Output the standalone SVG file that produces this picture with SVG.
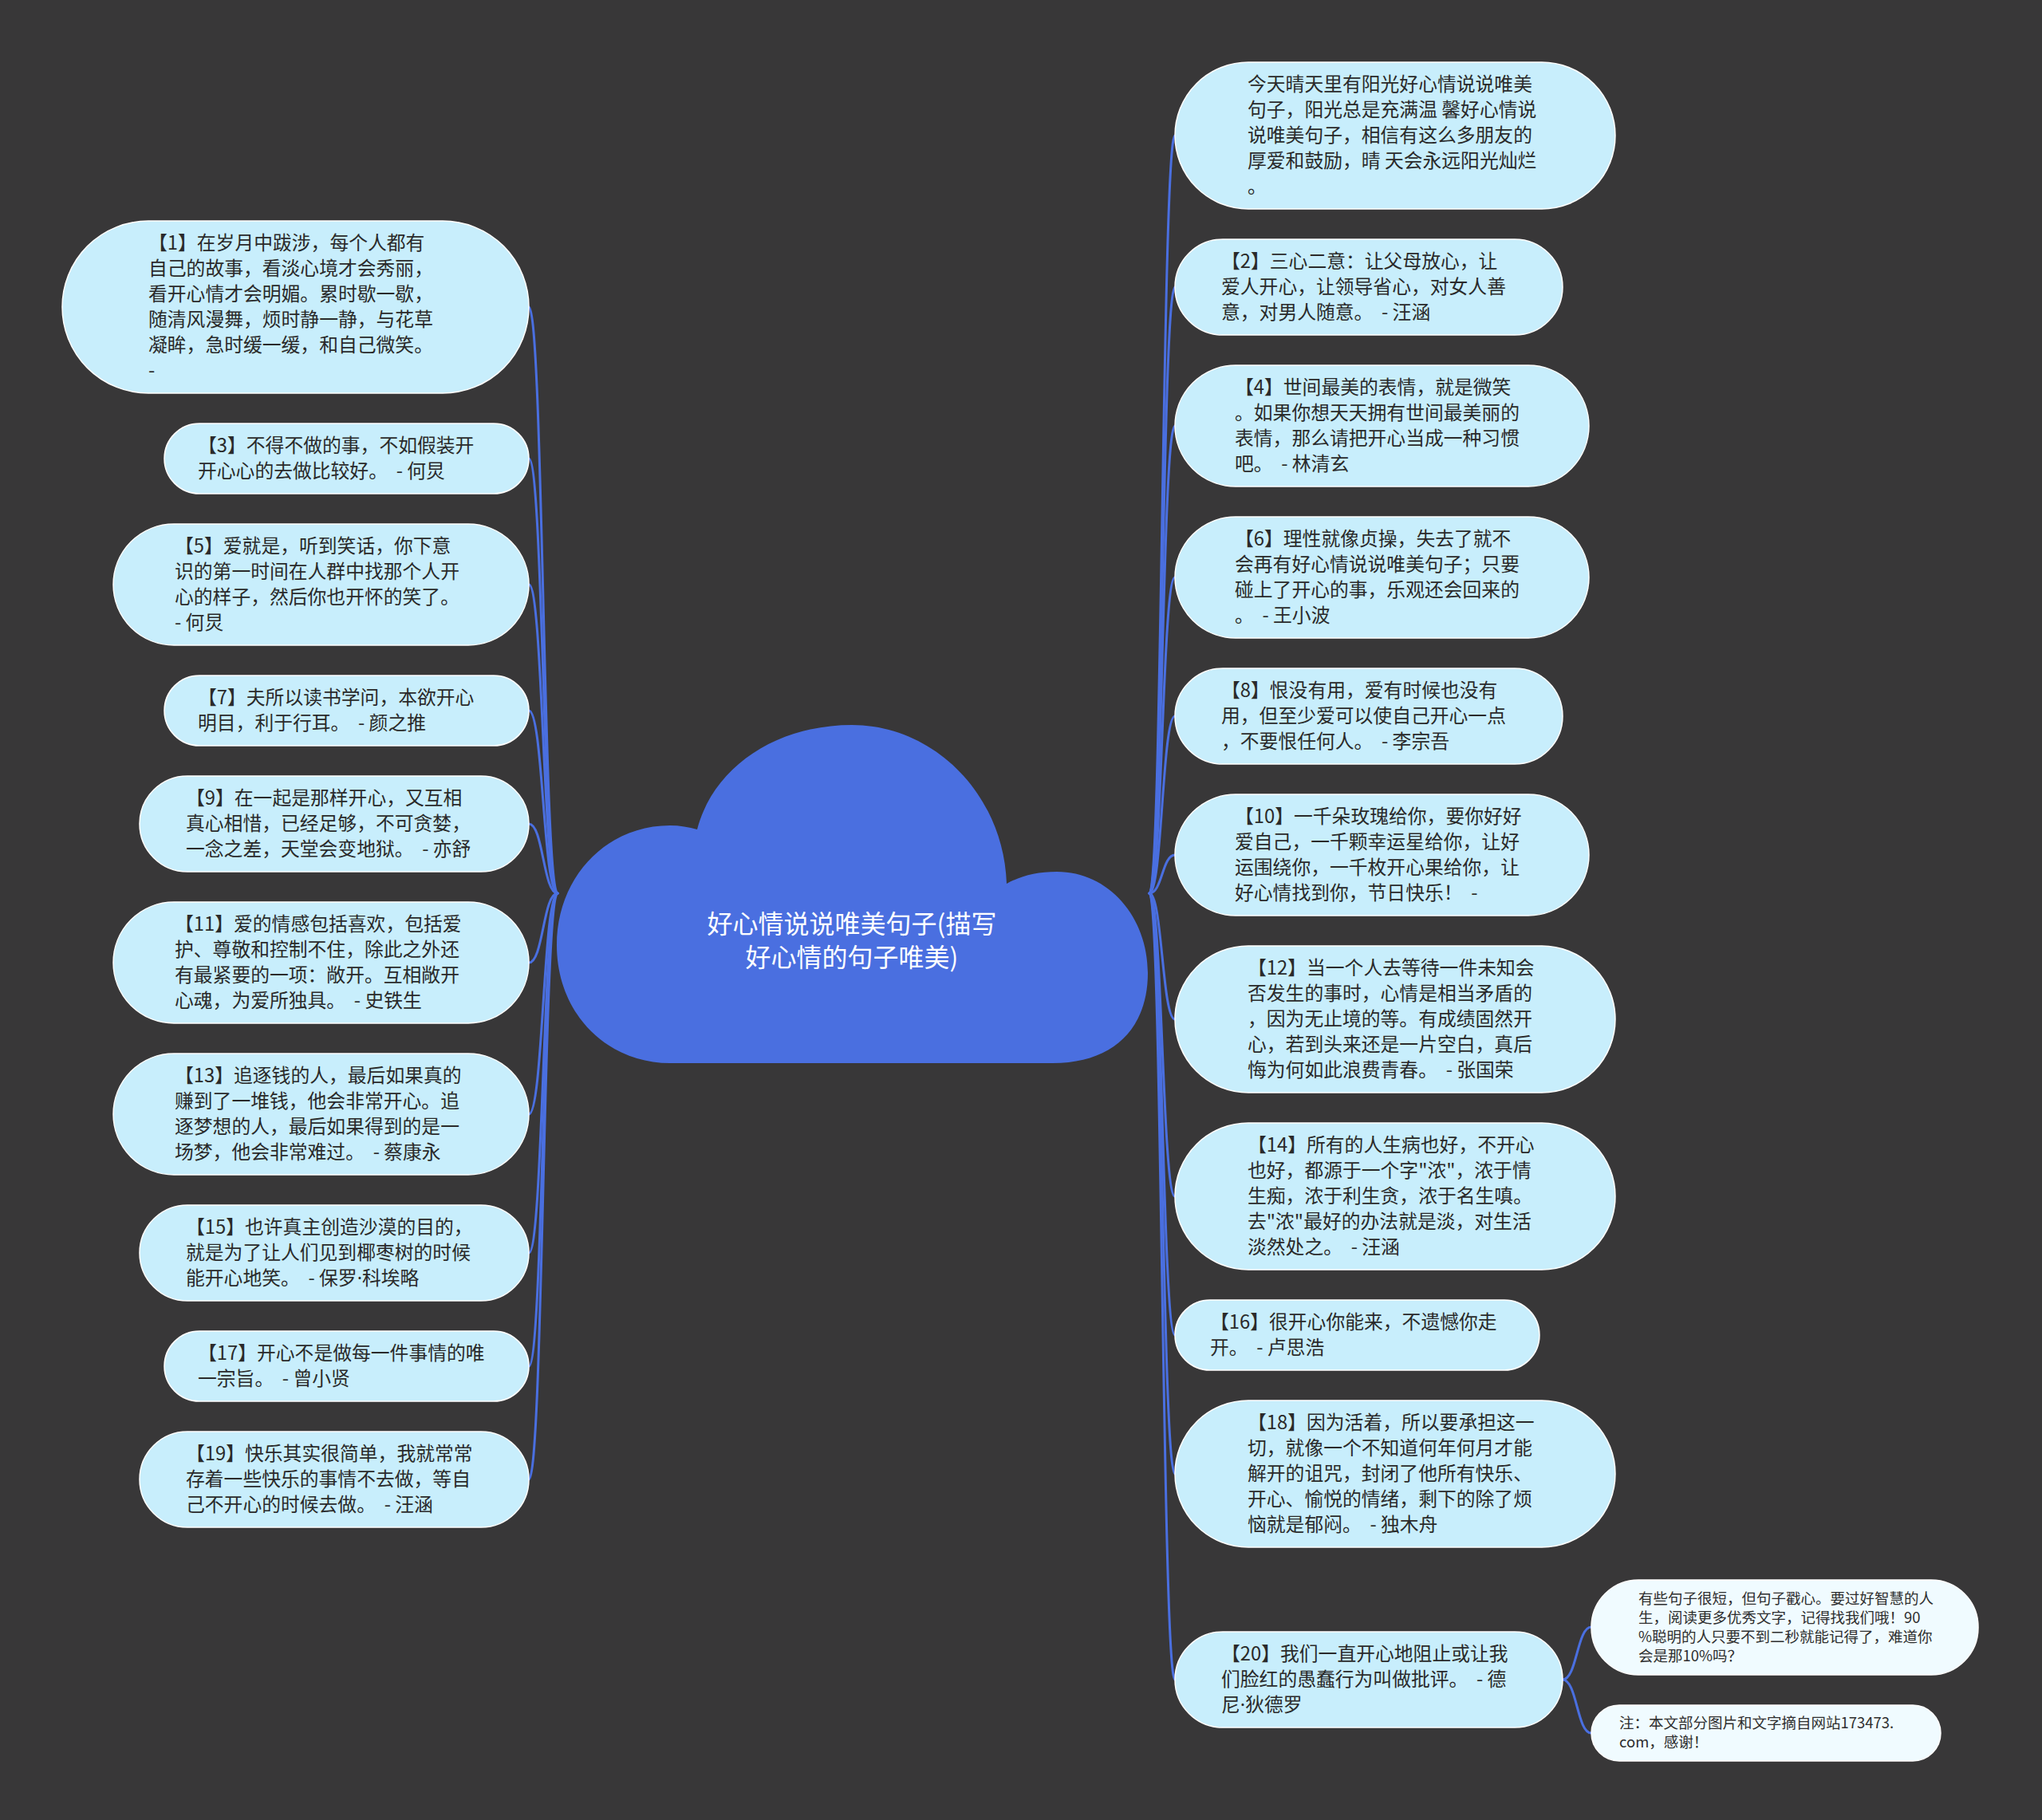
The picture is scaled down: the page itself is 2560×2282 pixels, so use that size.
<svg xmlns="http://www.w3.org/2000/svg" width="2560" height="2282" viewBox="0 0 2560 2282">
<style>
.bg{fill:#383738}
.link{fill:none;stroke:#4a6fe0;stroke-width:3;stroke-linecap:round}
.pill{fill:#c8eefc;stroke:#ffffff;stroke-width:1.5}
.note{fill:#f0fbff;stroke:#ffffff;stroke-width:1.5}
.t{font-family:"Noto Sans CJK SC","Noto Sans",sans-serif;font-size:23.8px;fill:#2a2a2a}
.tn{font-family:"Noto Sans CJK SC","Noto Sans",sans-serif;font-size:18.5px;fill:#2e2e2e}
.tc{font-family:"Noto Sans CJK SC","Noto Sans",sans-serif;font-size:32px;fill:#ffffff;text-anchor:middle}
.dot{font-family:"Noto Sans","DejaVu Sans",sans-serif}
</style>
<rect class="bg" x="0" y="0" width="2560" height="2282"/>
<g id="connectors">
<path class="link" d="M699,1120 C681,1120 681,385 663,385"/>
<path class="link" d="M699,1120 C681,1120 681,575 663,575"/>
<path class="link" d="M699,1120 C681,1120 681,733 663,733"/>
<path class="link" d="M699,1120 C681,1120 681,891 663,891"/>
<path class="link" d="M699,1120 C681,1120 681,1033 663,1033"/>
<path class="link" d="M699,1120 C681,1120 681,1207 663,1207"/>
<path class="link" d="M699,1120 C681,1120 681,1397 663,1397"/>
<path class="link" d="M699,1120 C681,1120 681,1571 663,1571"/>
<path class="link" d="M699,1120 C681,1120 681,1713 663,1713"/>
<path class="link" d="M699,1120 C681,1120 681,1855 663,1855"/>
<path class="link" d="M1441,1120 C1457,1120 1457,170 1473,170"/>
<path class="link" d="M1441,1120 C1457,1120 1457,360 1473,360"/>
<path class="link" d="M1441,1120 C1457,1120 1457,534 1473,534"/>
<path class="link" d="M1441,1120 C1457,1120 1457,724 1473,724"/>
<path class="link" d="M1441,1120 C1457,1120 1457,898 1473,898"/>
<path class="link" d="M1441,1120 C1457,1120 1457,1072 1473,1072"/>
<path class="link" d="M1441,1120 C1457,1120 1457,1278 1473,1278"/>
<path class="link" d="M1441,1120 C1457,1120 1457,1500 1473,1500"/>
<path class="link" d="M1441,1120 C1457,1120 1457,1674 1473,1674"/>
<path class="link" d="M1441,1120 C1457,1120 1457,1848 1473,1848"/>
<path class="link" d="M1441,1120 C1457,1120 1457,2106 1473,2106"/>
<path class="link" d="M1959,2106 C1977,2106 1977,2040 1995,2040"/>
<path class="link" d="M1959,2106 C1977,2106 1977,2173 1995,2173"/>
</g>
<g id="node-center">
<path fill="#4a6fe0" d="M840,1333 C760,1333 698,1270 698,1185 C698,1100 760,1035 840,1035 C852,1035 864,1037 874,1040 C895,960 975,909 1068,909 C1170,909 1258,995 1262,1108 C1280,1098 1300,1093 1325,1093 C1390,1093 1439,1150 1439,1220 C1439,1290 1395,1333 1320,1333 Z"/>
<text class="tc"><tspan x="1068" y="1170">好心情说说唯美句子(描写</tspan><tspan x="1068" y="1212">好心情的句子唯美)</tspan></text>
</g>
<g id="node-1">
<rect class="pill" x="78" y="277" width="585" height="216" rx="108" ry="108"/>
<text class="t"><tspan x="186" y="313">【1】在岁月中跋涉，每个人都有</tspan><tspan x="186" y="345">自己的故事，看淡心境才会秀丽，</tspan><tspan x="186" y="377">看开心情才会明媚。累时歇一歇，</tspan><tspan x="186" y="409">随清风漫舞，烦时静一静，与花草</tspan><tspan x="186" y="441">凝眸，急时缓一缓，和自己微笑。</tspan><tspan x="186" y="473">-</tspan></text>
</g>
<g id="node-3">
<rect class="pill" x="206" y="531" width="457" height="88" rx="44" ry="44"/>
<text class="t"><tspan x="248" y="567">【3】不得不做的事，不如假装开</tspan><tspan x="248" y="599">开心心的去做比较好。&#160; - 何炅</tspan></text>
</g>
<g id="node-5">
<rect class="pill" x="142" y="657" width="521" height="152" rx="76" ry="76"/>
<text class="t"><tspan x="219" y="693">【5】爱就是，听到笑话，你下意</tspan><tspan x="219" y="725">识的第一时间在人群中找那个人开</tspan><tspan x="219" y="757">心的样子，然后你也开怀的笑了。</tspan><tspan x="219" y="789">- 何炅</tspan></text>
</g>
<g id="node-7">
<rect class="pill" x="206" y="847" width="457" height="88" rx="44" ry="44"/>
<text class="t"><tspan x="248" y="883">【7】夫所以读书学问，本欲开心</tspan><tspan x="248" y="915">明目，利于行耳。&#160; - 颜之推</tspan></text>
</g>
<g id="node-9">
<rect class="pill" x="175" y="973" width="488" height="120" rx="60" ry="60"/>
<text class="t"><tspan x="233" y="1009">【9】在一起是那样开心，又互相</tspan><tspan x="233" y="1041">真心相惜，已经足够，不可贪婪，</tspan><tspan x="233" y="1073">一念之差，天堂会变地狱。&#160; - 亦舒</tspan></text>
</g>
<g id="node-11">
<rect class="pill" x="142" y="1131" width="521" height="152" rx="76" ry="76"/>
<text class="t"><tspan x="219" y="1167">【11】爱的情感包括喜欢，包括爱</tspan><tspan x="219" y="1199">护、尊敬和控制不住，除此之外还</tspan><tspan x="219" y="1231">有最紧要的一项：敞开。互相敞开</tspan><tspan x="219" y="1263">心魂，为爱所独具。&#160; - 史铁生</tspan></text>
</g>
<g id="node-13">
<rect class="pill" x="142" y="1321" width="521" height="152" rx="76" ry="76"/>
<text class="t"><tspan x="219" y="1357">【13】追逐钱的人，最后如果真的</tspan><tspan x="219" y="1389">赚到了一堆钱，他会非常开心。追</tspan><tspan x="219" y="1421">逐梦想的人，最后如果得到的是一</tspan><tspan x="219" y="1453">场梦，他会非常难过。&#160; - 蔡康永</tspan></text>
</g>
<g id="node-15">
<rect class="pill" x="175" y="1511" width="488" height="120" rx="60" ry="60"/>
<text class="t"><tspan x="233" y="1547">【15】也许真主创造沙漠的目的，</tspan><tspan x="233" y="1579">就是为了让人们见到椰枣树的时候</tspan><tspan x="233" y="1611">能开心地笑。&#160; - 保罗<tspan class="dot">·</tspan>科埃略</tspan></text>
</g>
<g id="node-17">
<rect class="pill" x="206" y="1669" width="457" height="88" rx="44" ry="44"/>
<text class="t"><tspan x="248" y="1705">【17】开心不是做每一件事情的唯</tspan><tspan x="248" y="1737">一宗旨。&#160; - 曾小贤</tspan></text>
</g>
<g id="node-19">
<rect class="pill" x="175" y="1795" width="488" height="120" rx="60" ry="60"/>
<text class="t"><tspan x="233" y="1831">【19】快乐其实很简单，我就常常</tspan><tspan x="233" y="1863">存着一些快乐的事情不去做，等自</tspan><tspan x="233" y="1895">己不开心的时候去做。&#160; - 汪涵</tspan></text>
</g>
<g id="node-top">
<rect class="pill" x="1473" y="78" width="552" height="184" rx="92" ry="92"/>
<text class="t"><tspan x="1564" y="114">今天晴天里有阳光好心情说说唯美</tspan><tspan x="1564" y="146">句子，阳光总是充满温 馨好心情说</tspan><tspan x="1564" y="178">说唯美句子，相信有这么多朋友的</tspan><tspan x="1564" y="210">厚爱和鼓励，晴 天会永远阳光灿烂</tspan><tspan x="1564" y="242">。</tspan></text>
</g>
<g id="node-2">
<rect class="pill" x="1473" y="300" width="486" height="120" rx="60" ry="60"/>
<text class="t"><tspan x="1531" y="336">【2】三心二意：让父母放心，让</tspan><tspan x="1531" y="368">爱人开心，让领导省心，对女人善</tspan><tspan x="1531" y="400">意，对男人随意。&#160; - 汪涵</tspan></text>
</g>
<g id="node-4">
<rect class="pill" x="1473" y="458" width="519" height="152" rx="76" ry="76"/>
<text class="t"><tspan x="1548" y="494">【4】世间最美的表情，就是微笑</tspan><tspan x="1548" y="526">。如果你想天天拥有世间最美丽的</tspan><tspan x="1548" y="558">表情，那么请把开心当成一种习惯</tspan><tspan x="1548" y="590">吧。&#160; - 林清玄</tspan></text>
</g>
<g id="node-6">
<rect class="pill" x="1473" y="648" width="519" height="152" rx="76" ry="76"/>
<text class="t"><tspan x="1548" y="684">【6】理性就像贞操，失去了就不</tspan><tspan x="1548" y="716">会再有好心情说说唯美句子；只要</tspan><tspan x="1548" y="748">碰上了开心的事，乐观还会回来的</tspan><tspan x="1548" y="780">。&#160; - 王小波</tspan></text>
</g>
<g id="node-8">
<rect class="pill" x="1473" y="838" width="486" height="120" rx="60" ry="60"/>
<text class="t"><tspan x="1531" y="874">【8】恨没有用，爱有时候也没有</tspan><tspan x="1531" y="906">用，但至少爱可以使自己开心一点</tspan><tspan x="1531" y="938">，不要恨任何人。&#160; - 李宗吾</tspan></text>
</g>
<g id="node-10">
<rect class="pill" x="1473" y="996" width="519" height="152" rx="76" ry="76"/>
<text class="t"><tspan x="1548" y="1032">【10】一千朵玫瑰给你，要你好好</tspan><tspan x="1548" y="1064">爱自己，一千颗幸运星给你，让好</tspan><tspan x="1548" y="1096">运围绕你，一千枚开心果给你，让</tspan><tspan x="1548" y="1128">好心情找到你，节日快乐！&#160; -</tspan></text>
</g>
<g id="node-12">
<rect class="pill" x="1473" y="1186" width="552" height="184" rx="92" ry="92"/>
<text class="t"><tspan x="1564" y="1222">【12】当一个人去等待一件未知会</tspan><tspan x="1564" y="1254">否发生的事时，心情是相当矛盾的</tspan><tspan x="1564" y="1286">，因为无止境的等。有成绩固然开</tspan><tspan x="1564" y="1318">心，若到头来还是一片空白，真后</tspan><tspan x="1564" y="1350">悔为何如此浪费青春。&#160; - 张国荣</tspan></text>
</g>
<g id="node-14">
<rect class="pill" x="1473" y="1408" width="552" height="184" rx="92" ry="92"/>
<text class="t"><tspan x="1564" y="1444">【14】所有的人生病也好，不开心</tspan><tspan x="1564" y="1476">也好，都源于一个字"浓"，浓于情</tspan><tspan x="1564" y="1508">生痴，浓于利生贪，浓于名生嗔。</tspan><tspan x="1564" y="1540">去"浓"最好的办法就是淡，对生活</tspan><tspan x="1564" y="1572">淡然处之。&#160; - 汪涵</tspan></text>
</g>
<g id="node-16">
<rect class="pill" x="1473" y="1630" width="457" height="88" rx="44" ry="44"/>
<text class="t"><tspan x="1517" y="1666">【16】很开心你能来，不遗憾你走</tspan><tspan x="1517" y="1698">开。&#160; - 卢思浩</tspan></text>
</g>
<g id="node-18">
<rect class="pill" x="1473" y="1756" width="552" height="184" rx="92" ry="92"/>
<text class="t"><tspan x="1564" y="1792">【18】因为活着，所以要承担这一</tspan><tspan x="1564" y="1824">切，就像一个不知道何年何月才能</tspan><tspan x="1564" y="1856">解开的诅咒，封闭了他所有快乐、</tspan><tspan x="1564" y="1888">开心、愉悦的情绪，剩下的除了烦</tspan><tspan x="1564" y="1920">恼就是郁闷。&#160; - 独木舟</tspan></text>
</g>
<g id="node-20">
<rect class="pill" x="1473" y="2046" width="486" height="120" rx="60" ry="60"/>
<text class="t"><tspan x="1531" y="2082">【20】我们一直开心地阻止或让我</tspan><tspan x="1531" y="2114">们脸红的愚蠢行为叫做批评。&#160; - 德</tspan><tspan x="1531" y="2146">尼<tspan class="dot">·</tspan>狄德罗</tspan></text>
</g>
<g id="node-note1">
<rect class="note" x="1995" y="1981" width="485" height="119" rx="59" ry="59"/>
<text class="tn"><tspan x="2054" y="2011">有些句子很短，但句子戳心。要过好智慧的人</tspan><tspan x="2054" y="2035">生，阅读更多优秀文字，记得找我们哦！90</tspan><tspan x="2054" y="2059">%聪明的人只要不到二秒就能记得了，难道你</tspan><tspan x="2054" y="2083">会是那10%吗？</tspan></text>
</g>
<g id="node-note2">
<rect class="note" x="1995" y="2138" width="438" height="70" rx="35" ry="35"/>
<text class="tn"><tspan x="2030" y="2167">注：本文部分图片和文字摘自网站173473.</tspan><tspan x="2030" y="2191">com，感谢！</tspan></text>
</g>
</svg>
